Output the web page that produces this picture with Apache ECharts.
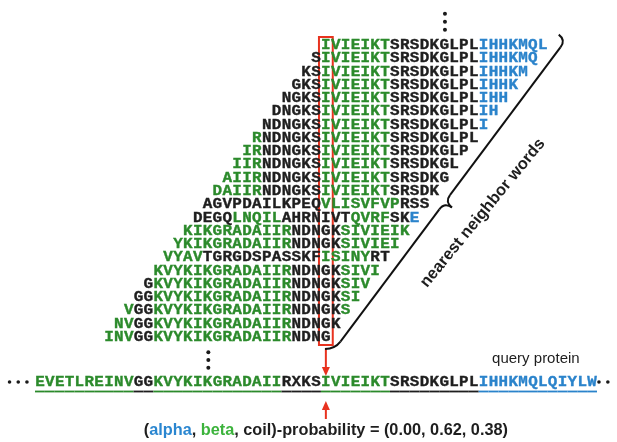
<!DOCTYPE html>
<html><head><meta charset="utf-8">
<script src="https://cdn.jsdelivr.net/npm/echarts@6/dist/echarts.min.js"></script>
<style>html,body{margin:0;padding:0;background:#fff}#c{width:617px;height:442px}</style>
</head><body><div id="c"></div>
<script>
// ---------- data ----------
const queryProtein = 'EVETLREINVGGKVYKIKGRADAIIRXKSIVIEIKTSRSDKGLPLIHHKMQLQIYLW';
// secondary structure per residue: H = alpha, E = beta, C = coil
const querySS      = 'EEEEEEEEEECCEEEEEEEEEEEEECCCCEEEEEEECCCCCCCCCHHHHHHHHHHHH';
const targetIndex = 29; // residue being predicted (I of ...RXKS|IVIEIKT)

const neighborWords = [
  'IVIEIKTSRSDKGLPLIHHKMQL',
  'SIVIEIKTSRSDKGLPLIHHKMQ',
  'KSIVIEIKTSRSDKGLPLIHHKM',
  'GKSIVIEIKTSRSDKGLPLIHHK',
  'NGKSIVIEIKTSRSDKGLPLIHH',
  'DNGKSIVIEIKTSRSDKGLPLIH',
  'NDNGKSIVIEIKTSRSDKGLPLI',
  'RNDNGKSIVIEIKTSRSDKGLPL',
  'IRNDNGKSIVIEIKTSRSDKGLP',
  'IIRNDNGKSIVIEIKTSRSDKGL',
  'AIIRNDNGKSIVIEIKTSRSDKG',
  'DAIIRNDNGKSIVIEIKTSRSDK',
  'AGVPDAILKPEQVLISVFVPRSS',
  'DEGQLNQILAHRNIVTQVRFSKE',
  'KIKGRADAIIRNDNGKSIVIEIK',
  'YKIKGRADAIIRNDNGKSIVIEI',
  'VYAVTGRGDSPASSKFISINYRT',
  'KVYKIKGRADAIIRNDNGKSIVI',
  'GKVYKIKGRADAIIRNDNGKSIV',
  'GGKVYKIKGRADAIIRNDNGKSI',
  'VGGKVYKIKGRADAIIRNDNGKS',
  'NVGGKVYKIKGRADAIIRNDNGK',
  'INVGGKVYKIKGRADAIIRNDNG'
];
const neighborSS = [
  'EEEEEEECCCCCCCCCHHHHHHH',
  'CEEEEEEECCCCCCCCCHHHHHH',
  'CCEEEEEEECCCCCCCCCHHHHH',
  'CCCEEEEEEECCCCCCCCCHHHH',
  'CCCCEEEEEEECCCCCCCCCHHH',
  'CCCCCEEEEEEECCCCCCCCCHH',
  'CCCCCCEEEEEEECCCCCCCCCH',
  'ECCCCCCEEEEEEECCCCCCCCC',
  'EECCCCCCEEEEEEECCCCCCCC',
  'EEECCCCCCEEEEEEECCCCCCC',
  'EEEECCCCCCEEEEEEECCCCCC',
  'EEEEECCCCCCEEEEEEECCCCC',
  'CCCCCCCCCCCCEEEEEEEECCC',
  'CCCCEEEEECCCCCCCEEEECCH',
  'EEEEEEEEEEECCCCCEEEEEEE',
  'EEEEEEEEEEEECCCCCEEEEEE',
  'EEEECCCCCCCCCCCCEEEEECC',
  'EEEEEEEEEEEEEECCCCCEEEE',
  'CEEEEEEEEEEEEEECCCCCEEE',
  'CCEEEEEEEEEEEEEECCCCCEE',
  'ECCEEEEEEEEEEEEEECCCCCE',
  'EECCEEEEEEEEEEEEEECCCCC',
  'EEECCEEEEEEEEEEEEEECCCC'
];
const probabilityClasses = ['alpha', 'beta', 'coil'];
const probabilities = [0.00, 0.62, 0.38];

// ---------- styles ----------
const ssColor = { H: '#2a83cb', E: '#2b8a2b', C: '#1e1e1e' };
const labelColor = { alpha: '#2a86d0', beta: '#3cb33c', coil: '#1e1e1e' };
const RED = '#e8321f';
const MONO = '"Liberation Mono","DejaVu Sans Mono",monospace';
const SANS = '"Liberation Sans",Arial,sans-serif';

// ---------- cells ----------
const neighborCells = [];
neighborWords.forEach((w, r) => {
  for (let j = 0; j < w.length; j++) {
    neighborCells.push({ col: targetIndex + j - r, row: r, ch: w[j], ss: neighborSS[r][j] });
  }
});
const queryCells = queryProtein.split('').map((ch, i) => ({ col: i, row: 0, ch, ss: querySS[i] }));

const chart = echarts.init(document.getElementById('c'), null, { renderer: 'canvas' });

const option = {
  animation: false,
  backgroundColor: '#fff',
  grid: [
    { left: 35, right: 20, top: 38.4, height: 305.2 },
    { left: 35, right: 20, top: 374, height: 16 }
  ],
  xAxis: [
    { type: 'value', gridIndex: 0, min: -0.5, max: 56.5, show: false },
    { type: 'value', gridIndex: 1, min: -0.5, max: 56.5, show: false }
  ],
  yAxis: [
    { type: 'value', gridIndex: 0, min: -0.5, max: 22.5, inverse: true, show: false },
    { type: 'value', gridIndex: 1, min: -0.5, max: 0.5, inverse: true, show: false }
  ],
  series: [
    {
      type: 'custom', xAxisIndex: 0, yAxisIndex: 0,
      data: neighborCells.map(c => [c.col, c.row]),
      renderItem: (params, api) => {
        const c = neighborCells[params.dataIndex];
        const p = api.coord([api.value(0), api.value(1)]);
        return { type: 'text', x: p[0], y: p[1] + 0.5, scaleX: 1.14,
          style: { text: c.ch, fill: ssColor[c.ss], stroke: ssColor[c.ss], lineWidth: 0.35,
                   font: 'bold 14px ' + MONO, align: 'center', verticalAlign: 'middle' } };
      }
    },
    {
      type: 'custom', xAxisIndex: 1, yAxisIndex: 1,
      data: queryCells.map(c => [c.col, c.row]),
      renderItem: (params, api) => {
        const c = queryCells[params.dataIndex];
        const p = api.coord([api.value(0), api.value(1)]);
        const w = api.size([1, 0])[0];
        return { type: 'group', children: [
          { type: 'text', x: p[0], y: p[1], scaleX: 1.06,
            style: { text: c.ch, fill: ssColor[c.ss], stroke: ssColor[c.ss], lineWidth: 0.35,
                     font: 'bold 15px ' + MONO, align: 'center', verticalAlign: 'middle' } },
          { type: 'line', shape: { x1: p[0] - w / 2, y1: p[1] + 9.5, x2: p[0] + w / 2, y2: p[1] + 9.5 },
            style: { stroke: ssColor[c.ss], lineWidth: 1.8 } }
        ] };
      }
    }
  ]
};
chart.setOption(option);

// ---------- annotations anchored to the grids ----------
const px = (c, r) => chart.convertToPixel({ gridIndex: 0 }, [c, r]);
const qpx = (c, r) => chart.convertToPixel({ gridIndex: 1 }, [c, r]);
const g = [];

// red column box
const tl = px(targetIndex - 0.7, -0.6), br = px(targetIndex + 0.7, neighborWords.length - 1 + 0.6);
g.push({ type: 'rect', shape: { x: tl[0], y: tl[1], width: br[0] - tl[0], height: br[1] - tl[1] },
         style: { fill: 'none', stroke: RED, lineWidth: 2 } });

// arrows
const ax = qpx(targetIndex, 0)[0];
const qy = qpx(targetIndex, 0)[1];
function arrow(x, yTail, yTip) {
  const dir = yTip > yTail ? 1 : -1;
  g.push({ type: 'line', shape: { x1: x, y1: yTail, x2: x, y2: yTip - dir * 7 }, style: { stroke: RED, lineWidth: 2 } });
  g.push({ type: 'polygon', shape: { points: [[x - 4, yTip - dir * 9], [x + 4, yTip - dir * 9], [x, yTip]] }, style: { fill: RED } });
}
arrow(ax, br[1] + 3, qy - 6);
arrow(ax, qy + 37, qy + 19);

// ellipses
function dots(cx, cy, gap, vertical, r) {
  for (let k = -1; k <= 1; k++) {
    g.push({ type: 'circle', shape: { cx: vertical ? cx : cx + k * gap, cy: vertical ? cy + k * gap : cy, r: r },
             style: { fill: '#1a1a1a' } });
  }
}
const topDot = px(41.08, -1.76);
dots(topDot[0], topDot[1], 8, true, 2);
const botDot = px(17.08, 23.74);
dots(botDot[0], botDot[1], 7.7, true, 2);
const ql = qpx(-2.2, 0);
dots(ql[0], ql[1], 8.7, false, 1.8);
[qpx(56.7, 0), qpx(57.6, 0)].forEach(p => g.push({ type: 'circle', shape: { cx: p[0], cy: p[1], r: 1.8 }, style: { fill: '#1a1a1a' } }));

// query protein label
const ql2 = qpx(50.3, 0);
g.push({ type: 'text', x: ql2[0], y: ql2[1] - 23,
         style: { text: 'query protein', font: '500 15px ' + SANS, fill: '#1e1e1e', align: 'center', verticalAlign: 'middle' } });

// probability line, centred under the predicted residue
const probText = '(' + probabilityClasses.map((c, i) => '{c' + i + '|' + c + '}').join(', ') +
                 ')-probability = (' + probabilities.map(v => v.toFixed(2)).join(', ') + ')';
const rich = {};
probabilityClasses.forEach((c, i) => { rich['c' + i] = { fill: labelColor[c], font: 'bold 16.3px ' + SANS }; });
g.push({ type: 'text', x: ax, y: qy + 49,
         style: { text: probText, rich: rich, font: 'bold 16.3px ' + SANS, fill: '#1e1e1e',
                  align: 'center', verticalAlign: 'middle' } });

// curly brace along the right edge of the word triangle
const T = px(53.35, -0.38), B = px(29.93, 22.9);
const L = Math.hypot(B[0] - T[0], B[1] - T[1]);
const d = [(B[0] - T[0]) / L, (B[1] - T[1]) / L];
const n = [d[1], -d[0]];
const add = (p, a, v, b, w) => [p[0] + a * v[0] + (b ? b * w[0] : 0), p[1] + a * v[1] + (b ? b * w[1] : 0)];
const M = [T[0] + 0.525 * (B[0] - T[0]), T[1] + 0.525 * (B[1] - T[1])];
const h = 9;
const S = add(T, -h, n);
const T2 = add(T, h, d);
const M1 = add(M, -h, d), M2 = add(M, h, d);
const cusp = add(M, 9, n);
const B1 = add(B, -h, d);
const E = add(B, 6, d, -8, n);
const bs = { stroke: '#111', lineWidth: 2, fill: 'none' };
const q = (p0, c, p1) => ({ type: 'bezierCurve', shape: { x1: p0[0], y1: p0[1], cpx1: c[0], cpy1: c[1], x2: p1[0], y2: p1[1] }, style: bs });
const ln = (p0, p1) => ({ type: 'line', shape: { x1: p0[0], y1: p0[1], x2: p1[0], y2: p1[1] }, style: bs });
g.push(q(S, T, T2), ln(T2, M1), q(M1, M, cusp), q(cusp, M, M2), ln(M2, B1), q(B1, B, E));

// brace label (reads upward, nearly parallel to the brace)
const braceAngle = Math.atan2(d[1], -d[0]);
const lc = add(M, 37, n, -14, d);
g.push({ type: 'text', x: lc[0], y: lc[1], rotation: braceAngle - 0.045,
         style: { text: 'nearest neighbor words', font: 'bold 16.5px ' + SANS, fill: '#1e1e1e',
                  align: 'center', verticalAlign: 'middle' } });

chart.setOption({ graphic: { elements: g } });
</script>
</body></html>
